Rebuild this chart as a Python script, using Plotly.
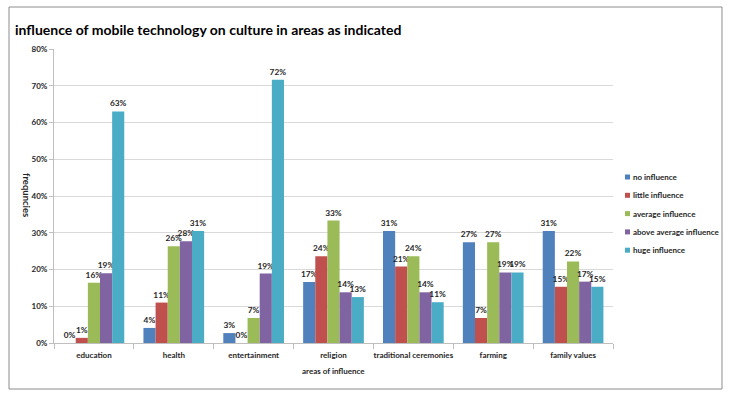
import plotly.graph_objects as go

categories = ["education", "health", "entertainment", "religion",
              "traditional ceremonies", "farming", "family values"]
series_names = ["no influence", "little influence", "average influence",
                "above average influence", "huge influence"]
no_influence = [0.0, 4.1, 2.7, 16.6, 30.5, 27.4, 30.5]
little_influence = [1.4, 11.0, 0.0, 23.6, 20.8, 6.8, 15.3]
average_influence = [16.4, 26.3, 6.8, 33.3, 23.6, 27.4, 22.2]
above_average_influence = [19.0, 27.7, 18.9, 13.8, 13.8, 19.2, 16.7]
huge_influence = [63.0, 30.5, 71.6, 12.5, 11.1, 19.2, 15.3]
colors = ["#4F81BD", "#C0504D", "#9BBB59", "#8064A2", "#4BACC6"]
y_ticks = [0, 10, 20, 30, 40, 50, 60, 70, 80]
y_tick_labels = [f"{v}%" for v in y_ticks]

series_values = [no_influence, little_influence, average_influence,
                 above_average_influence, huge_influence]

W, H = 730, 394
L, R, T, B = 54, 117, 49, 51
PW, PH = W - L - R, H - T - B
FONT = "Lato"
TXT = "#262626"
FS = 8


def px_x(x):
    return (x - L) / PW


def px_y(y):
    return (H - B - y) / PH


fig = go.Figure()
for name, vals, col in zip(series_names, series_values, colors):
    fig.add_trace(go.Bar(
        x=categories, y=vals, name=name, marker_color=col,
        marker_line_width=0,
        texttemplate="%{y:.0f}%", textposition="outside",
        textfont=dict(family=FONT, size=FS + 0.3, color=TXT, weight="bold"),
        constraintext="none", cliponaxis=False, showlegend=False,
    ))

shapes = [dict(type="rect", xref="paper", yref="paper",
               x0=px_x(9), x1=px_x(722), y0=px_y(389), y1=px_y(7),
               line=dict(color="#8c8c8c", width=1), fillcolor="rgba(0,0,0,0)",
               layer="below")]
annotations = []
leg_y0 = 177
leg_dy = 18.3
for i, (name, col) in enumerate(zip(series_names, colors)):
    yc = leg_y0 + i * leg_dy
    shapes.append(dict(type="rect", xref="paper", yref="paper",
                       x0=px_x(625), x1=px_x(630), y0=px_y(yc + 2.5), y1=px_y(yc - 2.5),
                       line=dict(width=0), fillcolor=col))
    annotations.append(dict(xref="paper", yref="paper", x=px_x(631), y=px_y(yc),
                            xanchor="left", yanchor="middle", text=name, showarrow=False,
                            font=dict(family=FONT, size=FS, color=TXT, weight="bold")))

annotations.append(dict(xref="paper", yref="paper", x=px_x(27), y=px_y(195),
                        xanchor="center", yanchor="middle", text="frequncies",
                        textangle=90, showarrow=False,
                        font=dict(family=FONT, size=9.5, color=TXT, weight="bold")))
annotations.append(dict(xref="paper", yref="paper", x=0.5, y=px_y(371),
                        xanchor="center", yanchor="middle", text="areas of influence",
                        showarrow=False,
                        font=dict(family=FONT, size=FS, color=TXT, weight="bold")))

fig.update_layout(
    width=W, height=H,
    margin=dict(l=L, r=R, t=T, b=B, pad=0),
    paper_bgcolor="white", plot_bgcolor="white",
    barmode="group", bargap=0.24, bargroupgap=0,
    title=dict(text="influence of mobile technology on culture in areas as indicated",
               x=15 / W, xref="container", xanchor="left",
               y=1 - 30 / H, yref="container", yanchor="middle", pad=dict(l=0, r=0, t=0, b=0),
               font=dict(family=FONT, size=14, color="#000000", weight="bold")),
    xaxis=dict(showline=True, linecolor="#bfbfbf", linewidth=1, automargin=False,
               tickangle=0, ticklabelstandoff=4,
               ticks="outside", tickson="boundaries", ticklen=5, tickcolor="#bfbfbf",
               tickfont=dict(family=FONT, size=FS, color=TXT, weight="bold")),
    yaxis=dict(range=[0, 80], tickvals=y_ticks, ticktext=y_tick_labels, automargin=False,
               showgrid=True, gridcolor="#d9d9d9", gridwidth=1,
               showline=True, linecolor="#bfbfbf", ticks="outside", ticklen=4,
               tickcolor="#bfbfbf", zeroline=False,
               tickfont=dict(family=FONT, size=FS, color=TXT, weight="bold")),
    shapes=shapes, annotations=annotations,
)

fig.write_html("out.html", config={"displayModeBar": False},
               post_script="document.body.style.margin='0px';")
